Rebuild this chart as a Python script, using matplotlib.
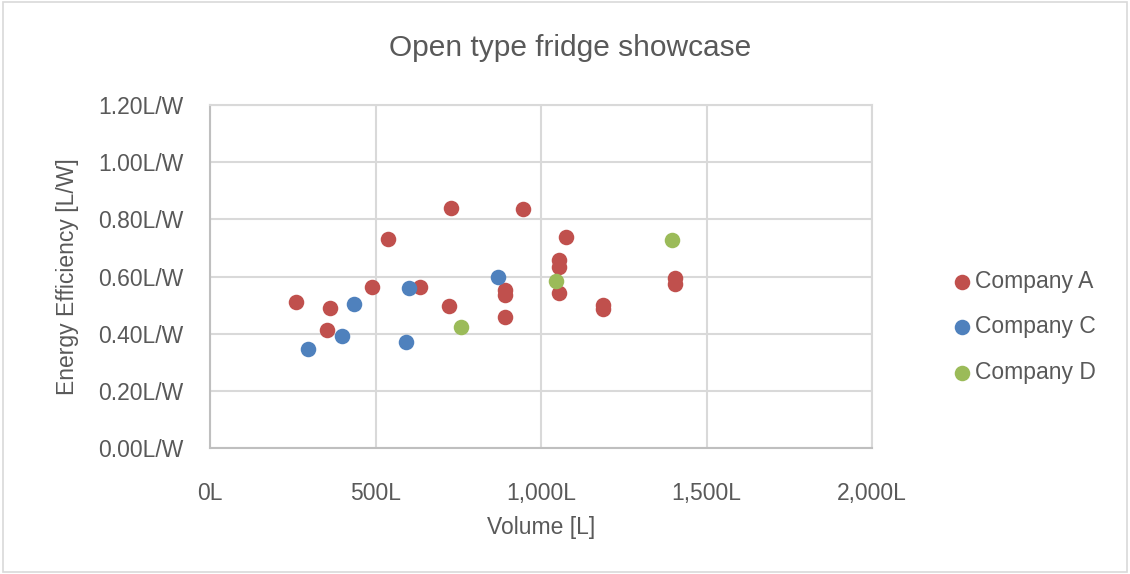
import numpy as np
import matplotlib.pyplot as plt
from matplotlib.ticker import FuncFormatter
from matplotlib.patches import Rectangle

plt.rcParams['font.family'] = ['Liberation Sans', 'DejaVu Sans']

## data
vol_A = [261, 361, 352, 488, 538, 634, 727, 723, 944, 891, 891, 890,
         1075, 1053, 1053, 1053, 1187, 1187, 1404, 1404]
eff_A = [0.513, 0.492, 0.413, 0.564, 0.732, 0.563, 0.840, 0.498, 0.836, 0.553, 0.536, 0.459,
         0.739, 0.657, 0.634, 0.542, 0.501, 0.486, 0.594, 0.576]
vol_C = [434, 399, 295, 602, 592, 869]
eff_C = [0.506, 0.394, 0.348, 0.560, 0.373, 0.600]
vol_D = [758, 1045, 1394]
eff_D = [0.424, 0.586, 0.729]

labels = ['Company A', 'Company C', 'Company D']
colors = ['#C0504D', '#4F81BD', '#9BBB59']
txt = '#595959'
grid_c = '#D9D9D9'

fig = plt.figure(figsize=(11.3, 5.74), dpi=100)
ax = fig.add_axes([210/1130, 1-448.3/574, (872.3-210)/1130, (448.3-105)/574])

for (x, y), lab, c in zip([(vol_A, eff_A), (vol_C, eff_C), (vol_D, eff_D)], labels, colors):
    ax.scatter(x, y, s=125, color=c, label=lab, zorder=3, linewidths=0)

ax.set_xlim(0, 2000)
ax.set_ylim(0, 1.2)
ax.set_xticks(np.arange(0, 2001, 500))
ax.set_yticks(np.arange(0, 1.21, 0.2))
ax.xaxis.set_major_formatter(FuncFormatter(lambda v, p: '{:,.0f}L'.format(v)))
ax.yaxis.set_major_formatter(FuncFormatter(lambda v, p: '{:.2f}L/W'.format(v)))
ax.grid(True, color=grid_c, linewidth=1.5, zorder=0)
ax.set_axisbelow(True)
for s in ax.spines.values():
    s.set_color(grid_c)
    s.set_linewidth(1.5)
ax.spines['left'].set_color('#BFBFBF')
ax.spines['bottom'].set_color('#BFBFBF')
ax.tick_params(length=0, labelsize=16.5, colors=txt, pad=19)
ax.tick_params(axis='x', pad=24)

ax.set_xlabel('Volume [L]', fontsize=16.5, color=txt, labelpad=8)
ax.set_ylabel('Energy Efficiency [L/W]', fontsize=16.5, color=txt, labelpad=14)
fig.text(570/1130, 1-48/574, 'Open type fridge showcase', fontsize=21.5, color=txt,
         ha='center', va='center')

fig.legend(loc='center left', bbox_to_anchor=(938/1130, 1-327/574), frameon=False,
           fontsize=16.5, labelcolor=txt, handletextpad=0.0, labelspacing=1.0,
           markerscale=1.0, borderpad=0, handlelength=1.1)

fig.patches.append(Rectangle((0.003, 0.003), 0.994, 0.994, transform=fig.transFigure,
                             fill=False, edgecolor=grid_c, linewidth=1.2))

fig.savefig('out.png', dpi=100)
